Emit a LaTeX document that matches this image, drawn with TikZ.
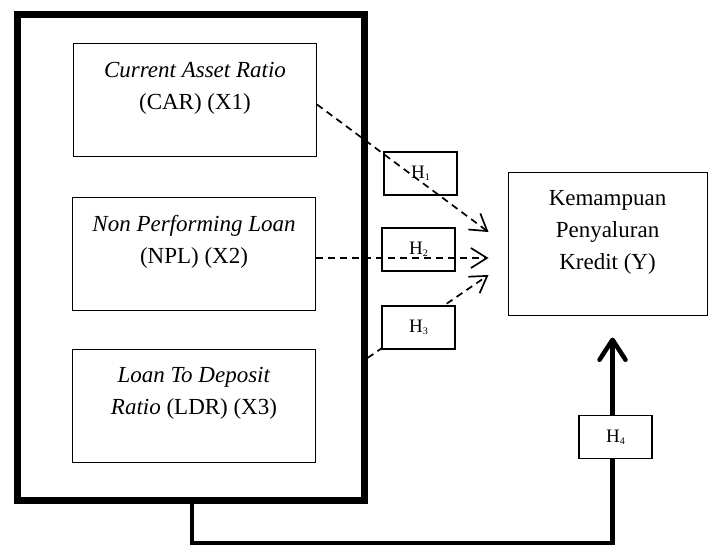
\documentclass[tikz,border=0pt]{standalone}
\usepackage{fontspec}
\setmainfont{Liberation Serif}
\usetikzlibrary{arrows.meta}
\newcommand{\hyp}[1]{H\raisebox{-2pt}{\fontsize{10}{10}\selectfont #1}}

\begin{document}
\begin{tikzpicture}[x = 1pt, y = -1pt,
    varbox/.style = {draw, line width = 1pt, minimum width = 243pt,
                     minimum height = 113pt},
    vartext/.style = {align = center, font = \fontsize{23}{32}\selectfont},
    hbox/.style = {draw, line width = 1.4pt, minimum width = 73pt,
                   minimum height = 43pt, font = \fontsize{19}{22}\selectfont},
    dasharrow/.style = {dash pattern = on 7pt off 5pt, line width = 1.7pt,
                        -{Straight Barb[length = 16pt, width = 20pt]}}]
  \useasboundingbox (0,0) rectangle (708,545);
  % independent variables
  \node[draw, line width = 7pt, minimum width = 347pt,
        minimum height = 485pt] (frame) at (190.5,257.5) {};
  \node[varbox] (car) at (195,100.5) {};
  \node[vartext] at ([yshift = 12pt]car.center)
    {\textit{Current Asset Ratio}\\(CAR) (X1)};
  \node[varbox] (npl) at (194,254) {};
  \node[vartext] at ([yshift = 12pt]npl.center)
    {\textit{Non Performing Loan}\\(NPL) (X2)};
  \node[varbox] (ldr) at (194,405.5) {};
  \node[vartext] at ([yshift = 12pt]ldr.center)
    {\textit{Loan To Deposit}\\\textit{Ratio} (LDR) (X3)};
  % dependent variable
  \node[draw, line width = 1pt, minimum width = 199pt,
        minimum height = 142pt] (kpk) at (607.5,244) {};
  \node[vartext] at ([yshift = 12pt]kpk.center)
    {Kemampuan\\Penyaluran\\Kredit (Y)};
  % partial hypotheses
  \node[hbox] (h1) at (420.5,173.5) {\hyp{1}};
  \node[hbox] (h2) at (418.5,249.5) {\hyp{2}};
  \coordinate (e1) at ([xshift = -19pt, yshift = 12pt]kpk.west);
  \coordinate (e2) at ([xshift = -19pt, yshift = -14pt]kpk.west);
  \coordinate (e3) at ([xshift = -19pt, yshift = -31pt]kpk.west);
  \coordinate (s3) at (frame.east |- 0,358);
  \draw[dasharrow] ([yshift = -4pt]car.east) -- (e1);
  \draw[dasharrow] ([yshift = -4pt]npl.east) -- (e2);
  \draw[dasharrow] (s3) -- (e3);
  \node[hbox, fill = white] (h3) at (418.5,327.5) {\hyp{3}};
  % simultaneous hypothesis
  \draw[line width = 4.5pt, -{Straight Barb[length = 20pt, width = 26pt, round]}]
    ([xshift = 1.5pt]frame.south) -- ++(0,40)
    -| ([xshift = 5pt, yshift = -22pt]kpk.south);
  \node[hbox, fill = white] (h4) at (615.5,437) {\hyp{4}};
\end{tikzpicture}
\end{document}
